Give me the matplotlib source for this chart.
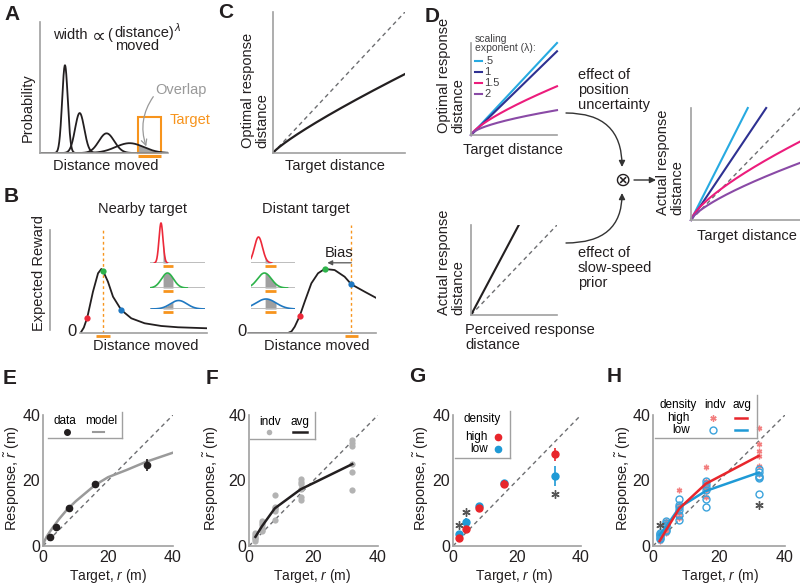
import numpy as np
import matplotlib
matplotlib.use('Agg')
import matplotlib.pyplot as plt
from matplotlib.patches import Rectangle

plt.rcParams['font.family'] = ['Liberation Sans', 'DejaVu Sans']
plt.rcParams['mathtext.fontset'] = 'custom'
plt.rcParams['mathtext.rm'] = 'Liberation Sans'
plt.rcParams['mathtext.it'] = 'Liberation Sans:italic'

# ---------------- data ----------------
# Panel A (schematic endpoint distributions)
A_centers = [1.95, 3.1, 5.2, 7.0]
A_heights = [0.67, 0.305, 0.15, 0.075]
A_sigmas = [0.22, 0.36, 0.6, 1.1]
A_target = [7.66, 9.45]
A_target_height = 0.275

# Panel B (expected reward curves)
B_near_x = [0.10, 0.30, 0.57, 1.02, 1.42, 1.68, 1.81, 2.20, 2.60, 3.25, 4.04, 5.09, 6.40, 7.72, 9.94]
B_near_y = [0.012, 0.05, 0.142, 0.382, 0.553, 0.593, 0.577, 0.475, 0.336, 0.213, 0.136, 0.090, 0.065, 0.053, 0.044]
B_far_x = [0, 3.125, 3.4, 3.65, 4.04, 4.43, 4.95, 5.47, 5.99, 6.77, 7.55, 8.07, 9.12, 9.98]
B_far_y = [0, 0, 0.015, 0.058, 0.157, 0.290, 0.460, 0.553, 0.593, 0.583, 0.521, 0.451, 0.382, 0.327]
B_near_dot_x = [0.57, 1.81, 3.25]
B_near_dot_y = [0.142, 0.577, 0.213]
B_far_dot_x = [4.04, 5.99, 8.07]
B_far_dot_y = [0.157, 0.593, 0.451]
B_near_target = [1.28, 1.81, 2.34]
B_far_target = [7.55, 8.07, 8.59]
B_bias = [8.07, 6.2]
# insets: center, sigma, height (inset units)
B_ins_near_c = [2.0, 3.18, 5.2]
B_ins_near_s = [0.36, 1.09, 1.5]
B_ins_near_h = [40, 15, 8.5]
B_ins_near_target = [2.36, 4.18]
B_ins_far_c = [1.36, 2.45, 2.73]
B_ins_far_s = [0.73, 1.27, 1.82]
B_ins_far_h = [26, 15, 10]
B_ins_far_target = [2.55, 4.55]

# Panel C
C_scale, C_exp = 0.56, 0.85

# Panel D
D_labels = ['.5', '1', '1.5', '2']
D_opt_scale = [1.0, 0.91, 0.53, 0.27]
D_opt_exp = [1.0, 1.0, 0.75, 0.6]
D_act_scale = [1.92, 1.45, 0.70, 0.51]
D_act_exp = [1.0, 1.0, 0.72, 0.72]
D_prior_slope = 1.8

# Panels E-H
targets = [2, 4, 8, 16, 32]
E_mean = [2.6, 5.9, 11.5, 18.8, 24.8]
E_err = [0.4, 0.7, 0.8, 1.0, 1.8]
E_model_x = [0, 0.5, 1.1, 2, 3.2, 5, 7.3, 10, 12.4, 16, 20, 25.7, 31.7, 40]
E_model_y = [0, 1.6, 2.8, 4.2, 5.9, 8.3, 11.0, 13.6, 15.6, 18.6, 21.0, 23.2, 25.7, 28.5]

F_indv = [[4.0, 3.4, 2.9, 2.5, 2.2, 1.5],
          [7.6, 7.0, 6.3, 5.5, 5.0, 4.6],
          [15.5, 11.8, 11.3, 10.8, 11.5, 7.8],
          [20.5, 19.6, 18.8, 17.5, 14.0, 15.0],
          [32.4, 31.4, 30.5, 25.0, 22.5, 17.1]]
F_avg = [2.8, 6.0, 11.5, 17.3, 25.0]

G_high = [2.4, 5.1, 11.5, 18.9, 28.0]
G_high_err = [0.5, 0.8, 0.8, 1.2, 2.0]
G_low = [3.6, 7.2, 12.1, 19.3, 21.4]
G_low_err = [0.5, 1.2, 0.8, 1.0, 3.0]
G_star_x = [2, 4, 32]
G_star_y = [6.4, 10.5, 15.8]

H_high_indv = [[3.5, 3.0, 2.5, 2.0, 1.8, 1.5],
               [7.5, 6.5, 5.5, 5.0, 4.5, 4.0],
               [17.0, 12.5, 11.5, 10.0, 9.0, 8.5],
               [24.0, 20.0, 19.0, 18.0, 17.0, 15.0],
               [36.0, 31.0, 29.0, 27.5, 24.5, 22.0]]
H_low_indv = [[4.0, 3.7, 3.3, 3.0, 2.5, 2.0],
              [7.5, 7.0, 6.5, 6.0, 5.0, 4.5],
              [14.3, 12.5, 12.0, 11.0, 9.5, 8.0],
              [19.7, 19.0, 18.0, 17.0, 14.3, 12.0],
              [23.5, 22.5, 21.5, 21.0, 20.8, 15.8]]
H_high_avg = [1.5, 4.9, 11.5, 19.0, 27.5]
H_low_avg = [3.4, 5.9, 11.8, 16.8, 22.4]
H_star_x = [2, 32]
H_star_y = [6.4, 12.5]
TICKS = [0, 20, 40]

# ---------------- style ----------------
INK = '#231f20'
SPINE = '#a0a0a0'
ORANGE = '#f7941d'
B_RED, B_GREEN, B_BLUE = '#ed2939', '#2db34a', '#1f78c1'
D_COLORS = ['#27aae1', '#2e3192', '#ec1c7c', '#8a4aa6']
RED, BLUE = '#e8262c', '#1f9ad6'
FS = 10.5

W, H = 800, 584
fig = plt.figure(figsize=(W / 100, H / 100), dpi=100)


def add_ax(l, t, w, h):
    ax = fig.add_axes([l / W, 1 - (t + h) / H, w / W, h / H])
    ax.patch.set_alpha(0)
    return ax


def schem(ax, left=True, bottom=True):
    for s in ['top', 'right']:
        ax.spines[s].set_visible(False)
    ax.spines['left'].set_visible(left)
    ax.spines['bottom'].set_visible(bottom)
    for s in ['left', 'bottom']:
        ax.spines[s].set_color(SPINE)
        ax.spines[s].set_linewidth(1.2)
    ax.set_xticks([])
    ax.set_yticks([])


DASH = dict(color='#6d6e71', lw=1.0, ls=(0, (3, 2.5)))

# ---------------- Panel A ----------------
axA = add_ax(40, 22, 128, 131)
schem(axA)
axA.set_xlim(0, 10)
axA.set_ylim(0, 1)
xs = np.linspace(0, 10, 800)
curves = []
for c, h, s in zip(A_centers, A_heights, A_sigmas):
    y = h * np.exp(-0.5 * ((xs - c) / s) ** 2)
    curves.append(y)
    axA.plot(xs, y, color=INK, lw=1.3)
m = (xs >= A_target[0]) & (xs <= A_target[1])
axA.fill_between(xs[m], 0, curves[-1][m], color='#a7a7a7', lw=0)
axA.add_patch(Rectangle((A_target[0], 0), A_target[1] - A_target[0], A_target_height,
                        fill=False, ec=ORANGE, lw=1.5, clip_on=False))
axA.plot(A_target, [-0.025, -0.025], color=ORANGE, lw=2.2, clip_on=False, solid_capstyle='butt')
axA.annotate('', xy=(8.3, 0.05), xytext=(8.85, 0.43),
             arrowprops=dict(arrowstyle='->', color='#999999', lw=0.9,
                             connectionstyle='arc3,rad=0.25', shrinkA=0, shrinkB=0))

# ---------------- Panel B ----------------
axB1 = add_ax(80, 225, 127, 108)
schem(axB1, left=False)
axB1.set_xlim(0, 10)
axB1.set_ylim(0, 1)
axB1.plot([B_near_target[1]] * 2, [0, 0.97], color=ORANGE, lw=1, ls=(0, (2, 2)))
axB1.plot(B_near_x, B_near_y, color=INK, lw=1.3)
for xx, yy, cc in zip(B_near_dot_x, B_near_dot_y, [B_RED, B_GREEN, B_BLUE]):
    axB1.plot(xx, yy, 'o', color=cc, ms=4.5, mec='none', zorder=5)
axB1.plot([B_near_target[0], B_near_target[2]], [-0.03, -0.03], color=ORANGE, lw=2,
          clip_on=False, solid_capstyle='butt')

axB2 = add_ax(248, 225, 128, 108)
schem(axB2, left=False)
axB2.set_xlim(0, 10)
axB2.set_ylim(0, 1)
axB2.plot([B_far_target[1]] * 2, [0, 1.0], color=ORANGE, lw=1, ls=(0, (2, 2)), clip_on=False)
axB2.plot(B_far_x, B_far_y, color=INK, lw=1.3)
for xx, yy, cc in zip(B_far_dot_x, B_far_dot_y, [B_RED, B_GREEN, B_BLUE]):
    axB2.plot(xx, yy, 'o', color=cc, ms=4.5, mec='none', zorder=5)
axB2.plot([B_far_target[0], B_far_target[2]], [-0.03, -0.03], color=ORANGE, lw=2,
          clip_on=False, solid_capstyle='butt')
axB2.annotate('', xy=(B_bias[1], 0.65), xytext=(B_bias[0], 0.65),
              arrowprops=dict(arrowstyle='-|>', color='#555555', lw=0.9, mutation_scale=7,
                              shrinkA=0, shrinkB=0))
axB2.text(7.1, 0.745, 'Bias', fontsize=FS, ha='center', va='center', color=INK)


def inset_row(left, base_y, width_px, xmax, center, sigma, height, color, target):
    ax = add_ax(left, base_y - 45, width_px, 45)
    ax.set_xlim(0, xmax)
    ax.set_ylim(0, 45)
    ax.axis('off')
    ax.axhline(0, color='#b8b8b8', lw=1.3)
    xx = np.linspace(max(0, center - 3.3 * sigma), min(xmax, center + 3.3 * sigma), 300)
    yy = height * np.exp(-0.5 * ((xx - center) / sigma) ** 2)
    mm = (xx >= target[0]) & (xx <= target[1])
    ax.fill_between(xx[mm], 0, yy[mm], color='#a0a0a0', lw=0)
    ax.plot(xx, yy, color=color, lw=1.2)
    ax.plot(target, [-3, -3], color=ORANGE, lw=2, clip_on=False, solid_capstyle='butt')


rows_y = [263, 288, 309]
for i, cc in enumerate([B_RED, B_GREEN, B_BLUE]):
    inset_row(150, rows_y[i], 55, 10, B_ins_near_c[i], B_ins_near_s[i], B_ins_near_h[i], cc,
              B_ins_near_target)
    inset_row(251, rows_y[i], 44, 8, B_ins_far_c[i], B_ins_far_s[i], B_ins_far_h[i], cc,
              B_ins_far_target)

# ---------------- Panel C ----------------
axC = add_ax(273, 12, 132, 141)
schem(axC)
axC.set_xlim(0, 1)
axC.set_ylim(0, 1)
xc = np.linspace(0, 1, 200)
axC.plot([0, 1], [0, 1], **DASH)
axC.plot(xc, C_scale * xc ** C_exp, color=INK, lw=1.6)

# ---------------- Panel D ----------------
axD1 = add_ax(471, 43, 86, 92)
schem(axD1)
axD1.set_xlim(0, 1)
axD1.set_ylim(0, 1)
for sc, ex, cc in zip(D_opt_scale, D_opt_exp, D_COLORS):
    axD1.plot(xc, sc * xc ** ex, color=cc, lw=1.5, clip_on=False)

axD2 = add_ax(471, 225, 86, 90)
schem(axD2)
axD2.set_xlim(0, 1)
axD2.set_ylim(0, 1)
axD2.plot([0, 1], [0, 1], **DASH)
axD2.plot([0, 1 / D_prior_slope], [0, 1], color=INK, lw=1.5)

axD3 = add_ax(691, 108, 109, 112)
schem(axD3)
axD3.set_xlim(0, 1)
axD3.set_ylim(0, 1)
axD3.plot([0, 1.03], [0, 1.03], clip_on=False, **DASH)
for sc, ex, cc in zip(D_act_scale, D_act_exp, D_COLORS):
    xe = min(1.0, (1.0 / sc) ** (1 / ex))
    xx = np.linspace(0, xe, 200)
    axD3.plot(xx, sc * xx ** ex, color=cc, lw=1.5, clip_on=False)


# ---------------- Panels E-H ----------------
def data_ax(l, t, w, h):
    ax = add_ax(l, t, w, h)
    for s in ['top', 'right']:
        ax.spines[s].set_visible(False)
    for s in ['left', 'bottom']:
        ax.spines[s].set_color(SPINE)
        ax.spines[s].set_linewidth(1.2)
    ax.set_xlim(0, 40)
    ax.set_ylim(0, 40)
    ax.set_xticks(TICKS)
    ax.set_yticks(TICKS)
    ax.tick_params(length=0, labelsize=11.5, labelcolor=INK)
    ax.tick_params(axis='x', pad=3)
    ax.tick_params(axis='y', pad=2)
    ax.plot([0, 40], [0, 40], **DASH)
    return ax


def frame(ax, x0, x1, ytop, ybot):
    kw = dict(color=SPINE, lw=1.0, transform=ax.transAxes, clip_on=False)
    ax.plot([x1, x1], [ytop, ybot], **kw)
    ax.plot([x0, x1], [ybot, ybot], **kw)


LG = 8.5
axE = data_ax(43, 415, 130, 131)
axE.plot(E_model_x, E_model_y, color='#9a9a9a', lw=1.8)
axE.errorbar(targets, E_mean, yerr=E_err, fmt='o', color=INK, ms=4.5, elinewidth=1.2,
             capsize=0, clip_on=False, zorder=5)
frame(axE, 0.038, 0.608, 1.023, 0.824)
axE.text(0.17, 0.955, 'data', transform=axE.transAxes, fontsize=LG, ha='center', va='center')
axE.text(0.446, 0.955, 'model', transform=axE.transAxes, fontsize=LG, ha='center', va='center')
axE.plot([0.185], [0.87], 'o', color=INK, ms=4, transform=axE.transAxes, clip_on=False)
axE.plot([0.385, 0.47], [0.87, 0.87], color='#9a9a9a', lw=1.5, transform=axE.transAxes)

axF = data_ax(249, 415, 129, 131)
for t, vals in zip(targets, F_indv):
    axF.plot([t] * len(vals), vals, 'o', color='#b3b3b3', ms=4.5, mec='none', clip_on=False)
axF.plot(targets, F_avg, color=INK, lw=1.8)
frame(axF, 0.005, 0.512, 1.02, 0.817)
axF.text(0.163, 0.947, 'indv', transform=axF.transAxes, fontsize=LG, ha='center', va='center')
axF.text(0.395, 0.947, 'avg', transform=axF.transAxes, fontsize=LG, ha='center', va='center')
axF.plot([0.155], [0.87], 'o', color='#b3b3b3', ms=4, mec='none', transform=axF.transAxes)
axF.plot([0.34, 0.45], [0.87, 0.87], color=INK, lw=1.8, transform=axF.transAxes)

axG = data_ax(453, 415, 128, 131)
axG.plot(G_star_x, G_star_y, marker=(6, 2, 0), ls='none', color='#555555', ms=6, mew=1.0)
axG.errorbar(targets, G_low, yerr=G_low_err, fmt='o', color=BLUE, ms=5, elinewidth=1.2,
             capsize=0, clip_on=False, zorder=4)
axG.errorbar(targets, G_high, yerr=G_high_err, fmt='o', color=RED, ms=5, elinewidth=1.2,
             capsize=0, clip_on=False, zorder=5)
frame(axG, 0.016, 0.445, 1.03, 0.672)
axG.text(0.227, 0.969, 'density', transform=axG.transAxes, fontsize=LG, ha='center', va='center')
axG.text(0.27, 0.832, 'high', transform=axG.transAxes, fontsize=LG, ha='right', va='center')
axG.text(0.27, 0.74, 'low', transform=axG.transAxes, fontsize=LG, ha='right', va='center')
axG.plot([0.352], [0.832], 'o', color=RED, ms=4.5, transform=axG.transAxes)
axG.plot([0.352], [0.74], 'o', color=BLUE, ms=4.5, transform=axG.transAxes)

axH = data_ax(653, 415, 132, 131)
for t, vals in zip(targets, H_high_indv):
    axH.plot([t] * len(vals), vals, marker=(6, 2, 0), ls='none', color='#f27e7e', ms=4,
             mew=1.0, clip_on=False)
for t, vals in zip(targets, H_low_indv):
    axH.plot([t] * len(vals), vals, 'o', mfc='none', mec='#3ba3dc', ms=5, mew=1.0,
             clip_on=False)
axH.plot(H_star_x, H_star_y, marker=(6, 2, 0), ls='none', color='#555555', ms=6, mew=1.0)
axH.plot(targets, H_low_avg, color=BLUE, lw=1.8)
axH.plot(targets, H_high_avg, color=RED, lw=1.8)
frame(axH, 0.015, 0.785, 1.15, 0.822)
axH.text(0.19, 1.076, 'density', transform=axH.transAxes, fontsize=LG, ha='center', va='center')
axH.text(0.47, 1.076, 'indv', transform=axH.transAxes, fontsize=LG, ha='center', va='center')
axH.text(0.674, 1.076, 'avg', transform=axH.transAxes, fontsize=LG, ha='center', va='center')
axH.text(0.28, 0.977, 'high', transform=axH.transAxes, fontsize=LG, ha='right', va='center')
axH.text(0.28, 0.885, 'low', transform=axH.transAxes, fontsize=LG, ha='right', va='center')
axH.plot([0.455], [0.977], marker=(6, 2, 0), color='#f27e7e', ms=4.5, mew=1.0,
         transform=axH.transAxes)
axH.plot([0.455], [0.885], 'o', mfc='none', mec='#3ba3dc', ms=5, mew=1.0,
         transform=axH.transAxes)
axH.plot([0.62, 0.71], [0.977, 0.977], color=RED, lw=1.8, transform=axH.transAxes)
axH.plot([0.62, 0.71], [0.885, 0.885], color=BLUE, lw=1.8, transform=axH.transAxes)

# ---------------- overlay (texts, arrows) ----------------
ov = fig.add_axes([0, 0, 1, 1])
ov.set_xlim(0, W)
ov.set_ylim(H, 0)
ov.axis('off')
ov.patch.set_alpha(0)


def T(x, y, s, **kw):
    d = dict(fontsize=FS, color=INK, ha='center', va='center')
    d.update(kw)
    ov.text(x, y, s, **d)


for lab, (x, y) in zip('ABCDEFGH', [(12, 14), (11, 196), (226, 13), (432, 16),
                                     (10, 378), (212, 378), (417, 377), (614, 377)]):
    T(x, y, lab, fontsize=15, fontweight='bold')

# A texts
T(53, 35, 'width', ha='left')
T(99, 36, '\u221d', fontsize=14, family=['DejaVu Sans'])
T(107, 35, '(', ha='left')
T(114, 33, 'distance)', ha='left')
T(115, 46, 'moved', ha='left')
T(175, 28, '\u03bb', ha='left', fontsize=8, fontstyle='italic')
T(28, 108, 'Probability', rotation=90)
T(106, 166, 'Distance moved')
T(155, 90, 'Overlap', ha='left', color='#999999')
T(170, 120, 'Target', ha='left', color=ORANGE)

# B texts
T(142, 209, 'Nearby target')
T(306, 209, 'Distant target')
T(39, 273, 'Expected Reward', rotation=90)
ov.plot([50, 50], [230, 330], color=SPINE, lw=1.2)
T(72, 332, '0', fontsize=12)
T(242, 332, '0', fontsize=12)
T(146, 346, 'Distance moved')
T(317, 346, 'Distance moved')

# C texts
T(255, 148, 'Optimal response\ndistance', rotation=90, va='bottom', multialignment='left',
  linespacing=1.0)
T(335, 166, 'Target distance')

# D texts
T(475, 39, 'scaling', ha='left', fontsize=7.5, color='#414042')
T(475, 48, 'exponent (\u03bb):', ha='left', fontsize=7.5, color='#414042')
for i, (lab, cc) in enumerate(zip(D_labels, D_COLORS)):
    yy = 61 + 11 * i
    ov.plot([475, 482], [yy, yy], color=cc, lw=1.5)
    T(484, yy, lab, ha='left', fontsize=8, color='#414042')
T(451, 133, 'Optimal response\ndistance', rotation=90, va='bottom', multialignment='left',
  linespacing=1.0)
T(513, 150, 'Target distance')
T(451, 315, 'Actual response\ndistance', rotation=90, va='bottom', multialignment='left',
  linespacing=1.0)
T(465, 330, 'Perceived response', ha='left')
T(465, 345, 'distance', ha='left')
for i, s in enumerate(['effect of', 'position', 'uncertainty']):
    T(578, 75 + 15 * i, s, ha='left')
for i, s in enumerate(['effect of', 'slow-speed', 'prior']):
    T(578, 253 + 15 * i, s, ha='left')
T(670, 215, 'Actual response\ndistance', rotation=90, va='bottom', multialignment='left',
  linespacing=1.0)
T(747, 236, 'Target distance')
T(622, 180, '\u2297', fontsize=14, family=['DejaVu Sans'])
arr = dict(arrowstyle='-|>', color='#333333', lw=1.0, mutation_scale=9, shrinkA=0, shrinkB=0)
ov.annotate('', xy=(622, 167), xytext=(566, 113),
            arrowprops=dict(connectionstyle='angle3,angleA=0,angleB=90', **arr))
ov.annotate('', xy=(622, 193), xytext=(566, 243),
            arrowprops=dict(connectionstyle='angle3,angleA=0,angleB=90', **arr))
ov.annotate('', xy=(656, 180), xytext=(634, 180), arrowprops=arr)

# E-H labels
YL = 'Response, $\\tilde{r}$ (m)'
XL = 'Target, $r$ (m)'
for x in [12, 211, 421, 623]:
    T(x, 478, YL, rotation=90, fontsize=10.5)
for x in [108, 312, 514, 720]:
    T(x, 576, XL, fontsize=10)

fig.savefig('out.png', dpi=100)
